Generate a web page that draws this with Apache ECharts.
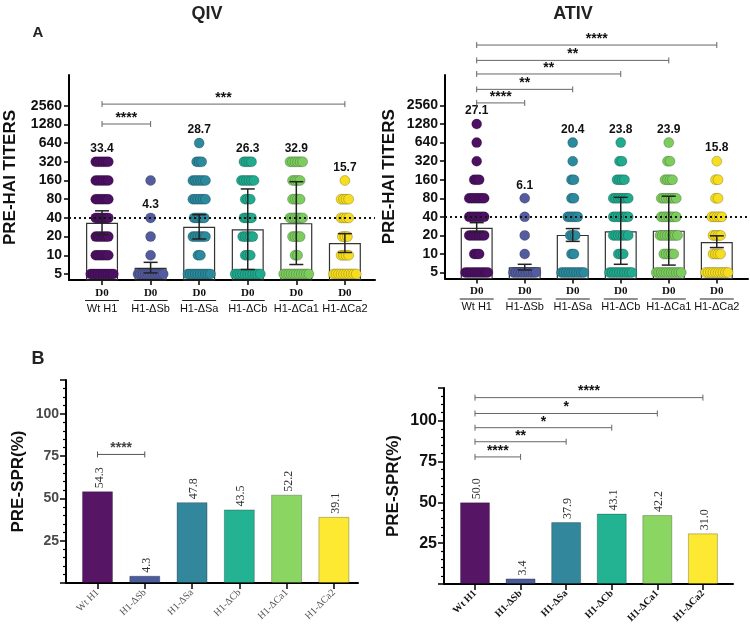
<!DOCTYPE html>
<html>
<head>
<meta charset="utf-8">
<script src="https://cdn.jsdelivr.net/npm/echarts@6/dist/echarts.min.js"></script>
<style>
html, body { margin: 0; padding: 0; background: #fff; }
#main { width: 750px; height: 630px; }
</style>
</head>
<body>
<div id="main"></div>
<script>
// groups and titer levels
var groups = ['Wt H1', 'H1-ΔSb', 'H1-ΔSa', 'H1-ΔCb', 'H1-ΔCa1', 'H1-ΔCa2'];
var titerLevels = [5, 10, 20, 40, 80, 160, 320, 640, 1280];
var titerTicks = [5, 10, 20, 40, 80, 160, 320, 640, 1280, 2560];
var sprTicks = [25, 50, 75, 100];

// QIV, pre-HAI titers
var qivGmt = [33.4, 4.3, 28.7, 26.3, 32.9, 15.7];
var qivBar = [33.4, 6.3, 28.7, 26.3, 32.9, 15.7];
var qivErrLow = [21.5, 5.2, 18.3, 5.9, 7.1, 11.1];
var qivErrHigh = [52, 7.7, 45, 117, 153, 22.3];
var qivLabelLevel = [320, 40, 640, 320, 320, 160];
// dot counts per level 5,10,20,...,1280
var qivDots = [
    [10, 6, 6, 6, 6, 6, 6, 0, 0],
    [11, 1, 1, 1, 0, 1, 0, 0, 0],
    [10, 2, 6, 5, 6, 6, 3, 1, 0],
    [11, 3, 5, 4, 3, 6, 4, 0, 0],
    [11, 2, 4, 6, 4, 4, 6, 0, 0],
    [10, 4, 3, 4, 4, 1, 0, 0, 0]
];
var qivSig = [[0, 1, 1300, '****'], [0, 5, 2720, '***']];

// ATIV, pre-HAI titers
var ativGmt = [27.1, 6.1, 20.4, 23.8, 23.9, 15.8];
var ativBar = [26.6, 6.1, 20.4, 23.3, 23.9, 15.6];
var ativErrLow = [22.8, 5.5, 16.0, 6.8, 6.6, 12.7];
var ativErrHigh = [32.2, 6.8, 25.8, 83, 86.5, 19.7];
var ativLabelLevel = [1280, 80, 640, 640, 640, 320];
var ativDots = [
    [10, 3, 7, 7, 7, 3, 1, 1, 1],
    [10, 1, 1, 1, 1, 0, 0, 0, 0],
    [10, 2, 3, 5, 2, 2, 1, 1, 0],
    [10, 3, 7, 7, 7, 4, 2, 1, 0],
    [11, 5, 8, 7, 7, 4, 2, 1, 0],
    [10, 4, 4, 5, 2, 2, 1, 0, 0]
];
var ativSig = [[0, 1, 2820, '****'], [0, 2, 4680, '**'], [0, 3, 8310, '**'], [0, 4, 13800, '**'], [0, 5, 24500, '****']];

// pre-SPR (%)
var qivSpr = [54.3, 4.3, 47.8, 43.5, 52.2, 39.1];
var ativSpr = [50.0, 3.4, 37.9, 43.1, 42.2, 31.0];
var qivSprSig = [[0, 1, 76, '****']];
var ativSprSig = [[0, 1, 77.8, '****'], [0, 2, 87.1, '**'], [0, 3, 95.7, '*'], [0, 4, 104.4, '*'], [0, 5, 114.1, '****']];

var dotColors = ['#4d1163', '#535c9e', '#2b8a9d', '#20aa8e', '#7ccd5e', '#f6dd20'];
var barColors = ['#561565', '#4c5b9a', '#33879c', '#23b393', '#8bd663', '#fde832'];
var SANS = 'Liberation Sans';
var SERIF = 'Liberation Serif';

var myChart = echarts.init(document.getElementById('main'));

var topXAxis = function (grid, min, max) {
    return {
        gridIndex: grid, type: 'value', min: min, max: max,
        splitLine: {show: false},
        axisLine: {lineStyle: {color: '#000', width: 2}},
        axisTick: {customValues: [0, 1, 2, 3, 4, 5], length: 5, lineStyle: {color: '#000', width: 1.5}},
        axisLabel: {
            customValues: [0, 1, 2, 3, 4, 5],
            margin: 7,
            formatter: function (v) {
                return '{d|D0}\n{l| }\n{n|' + groups[Math.round(v)] + '}';
            },
            rich: {
                d: {fontFamily: SERIF, fontWeight: 'bold', fontSize: 11, lineHeight: 12, color: '#111'},
                l: {width: 34, height: 1.2, lineHeight: 3, backgroundColor: '#222', fontSize: 2},
                n: {fontFamily: SANS, fontSize: 11, lineHeight: 13, color: '#111'}
            }
        }
    };
};

var bottomXAxis = function (grid, min, max, bold) {
    return {
        gridIndex: grid, type: 'value', min: min, max: max,
        splitLine: {show: false},
        axisLine: {lineStyle: {color: '#000', width: 2}},
        axisTick: {customValues: [0, 1, 2, 3, 4, 5], length: 6, lineStyle: {color: '#000', width: 1.5}},
        axisLabel: {
            customValues: [0, 1, 2, 3, 4, 5],
            rotate: 45, margin: 8,
            fontFamily: SERIF, fontSize: 10,
            fontWeight: bold ? 'bold' : 'normal',
            color: bold ? '#111' : '#555',
            formatter: function (v) { return groups[Math.round(v)]; }
        }
    };
};

var topYAxis = function (grid, gap) {
    return {
        gridIndex: grid, type: 'log', logBase: 2, min: 4, max: 8000,
        splitLine: {show: false},
        axisLine: {show: true, onZero: false, lineStyle: {color: '#000', width: 2}},
        axisTick: {show: true, customValues: titerTicks, length: 5, lineStyle: {color: '#000', width: 1.5}},
        axisLabel: {customValues: titerTicks, margin: 7, fontFamily: SANS, fontWeight: 'bold', fontSize: 14, color: '#111',
            formatter: function (v) { return String(v); }},
        name: 'PRE-HAI TITERS', nameLocation: 'middle', nameGap: gap,
        nameTextStyle: {fontFamily: SANS, fontWeight: 'bold', fontSize: 17, color: '#111'}
    };
};

var bottomYAxis = function (grid, gap, labelColor, labelSize) {
    return {
        gridIndex: grid, type: 'value', min: 0, max: 120, interval: 25,
        splitLine: {show: false},
        axisLine: {show: true, onZero: false, lineStyle: {color: '#000', width: 2}},
        axisTick: {show: true, length: 6, lineStyle: {color: '#000', width: 1.5}},
        minorTick: {show: true, splitNumber: 5, length: 3, lineStyle: {color: '#000', width: 1.2}},
        axisLabel: {customValues: sprTicks, margin: 7, fontFamily: SANS, fontWeight: 'bold', fontSize: labelSize, color: labelColor},
        name: 'PRE-SPR(%)', nameLocation: 'middle', nameGap: gap,
        nameTextStyle: {fontFamily: SANS, fontWeight: 'bold', fontSize: 17, color: '#111'}
    };
};

var dotSeries = function (counts, axis, step) {
    var out = [];
    counts.forEach(function (row, g) {
        var data = [];
        row.forEach(function (n, k) {
            for (var i = 0; i < n; i++) {
                data.push([g + (i - (n - 1) / 2) * step, titerLevels[k]]);
            }
        });
        out.push({
            type: 'scatter', xAxisIndex: axis, yAxisIndex: axis, data: data,
            symbolSize: 10, silent: true, z: 3,
            itemStyle: {color: dotColors[g], borderColor: 'rgba(0,0,0,0.35)', borderWidth: 0.6, opacity: 1}
        });
    });
    return out;
};

var gmtBars = function (values, axis) {
    return {
        type: 'bar', xAxisIndex: axis, yAxisIndex: axis, barWidth: 32, clip: true, z: 2, silent: true,
        data: values.map(function (v, i) { return [i, v]; }),
        itemStyle: {color: 'rgba(255,255,255,0)', borderColor: '#333', borderWidth: 1.2},
        markLine: {
            silent: true, symbol: 'none', label: {show: false},
            lineStyle: {type: [2, 3], width: 2, color: '#111'},
            data: [{yAxis: 40}]
        }
    };
};

var errSeries = function (low, high, axis) {
    return {
        type: 'custom', xAxisIndex: axis, yAxisIndex: axis, z: 5, silent: true,
        data: low.map(function (v, i) { return [i, v, high[i]]; }),
        renderItem: function (params, api) {
            var lo = api.coord([api.value(0), api.value(1)]);
            var hi = api.coord([api.value(0), api.value(2)]);
            var w = 7;
            var st = {stroke: '#222', lineWidth: 1.5};
            return {type: 'group', children: [
                {type: 'line', shape: {x1: lo[0], y1: lo[1], x2: hi[0], y2: hi[1]}, style: st},
                {type: 'line', shape: {x1: lo[0] - w, y1: lo[1], x2: lo[0] + w, y2: lo[1]}, style: st},
                {type: 'line', shape: {x1: hi[0] - w, y1: hi[1], x2: hi[0] + w, y2: hi[1]}, style: st}
            ]};
        }
    };
};

var gmtLabels = function (gmt, level, axis) {
    return {
        type: 'custom', xAxisIndex: axis, yAxisIndex: axis, z: 6, silent: true,
        data: level.map(function (v, i) { return [i, v]; }),
        renderItem: function (params, api) {
            var p = api.coord([api.value(0), api.value(1)]);
            return {
                type: 'text', x: p[0], y: p[1] - 13,
                style: {text: gmt[params.dataIndex].toFixed(1), fill: '#111', font: 'bold 12px ' + SANS,
                    textAlign: 'center', textVerticalAlign: 'middle'}
            };
        }
    };
};

var sigSeries = function (sig, axis, lineColor, textColor) {
    return {
        type: 'custom', xAxisIndex: axis, yAxisIndex: axis, z: 6, silent: true, clip: false,
        data: sig.map(function (b) { return [b[0], b[2]]; }),
        renderItem: function (params, api) {
            var b = sig[params.dataIndex];
            var p1 = api.coord([b[0], b[2]]);
            var p2 = api.coord([b[1], b[2]]);
            var st = {stroke: lineColor, lineWidth: 1};
            return {type: 'group', children: [
                {type: 'line', shape: {x1: p1[0], y1: p1[1], x2: p2[0], y2: p2[1]}, style: st},
                {type: 'line', shape: {x1: p1[0], y1: p1[1] - 3, x2: p1[0], y2: p1[1] + 3}, style: st},
                {type: 'line', shape: {x1: p2[0], y1: p2[1] - 3, x2: p2[0], y2: p2[1] + 3}, style: st},
                {type: 'text', x: (p1[0] + p2[0]) / 2, y: p1[1] - 6,
                    style: {text: b[3], fill: textColor, font: 'bold 14px ' + SANS, textAlign: 'center', textVerticalAlign: 'middle'}}
            ]};
        }
    };
};

var sprBars = function (values, axis, width) {
    return {
        type: 'bar', xAxisIndex: axis, yAxisIndex: axis, barWidth: width, silent: true, z: 2,
        data: values.map(function (v, i) {
            return {value: [i, v], itemStyle: {color: barColors[i]}};
        }),
        itemStyle: {borderColor: 'rgba(0,0,0,0.25)', borderWidth: 1}
    };
};

var sprLabels = function (values, axis) {
    return {
        type: 'custom', xAxisIndex: axis, yAxisIndex: axis, z: 6, silent: true,
        data: values.map(function (v, i) { return [i, v]; }),
        renderItem: function (params, api) {
            var p = api.coord([api.value(0), api.value(1)]);
            return {
                type: 'text', x: p[0] + 2, y: p[1] - 3, rotation: Math.PI / 2,
                style: {text: values[params.dataIndex].toFixed(1), fill: '#333', font: '12px ' + SERIF,
                    textAlign: 'left', textVerticalAlign: 'middle'}
            };
        }
    };
};

var series = [gmtBars(qivBar, 0), gmtBars(ativBar, 1)]
    .concat(dotSeries(qivDots, 0, 0.052))
    .concat(dotSeries(ativDots, 1, 0.052))
    .concat([
        errSeries(qivErrLow, qivErrHigh, 0),
        errSeries(ativErrLow, ativErrHigh, 1),
        gmtLabels(qivGmt, qivLabelLevel, 0),
        gmtLabels(ativGmt, ativLabelLevel, 1),
        sigSeries(qivSig, 0, '#666', '#111'),
        sigSeries(ativSig, 1, '#666', '#111'),
        sprBars(qivSpr, 2, 31),
        sprBars(ativSpr, 3, 30),
        sprLabels(qivSpr, 2),
        sprLabels(ativSpr, 3),
        sigSeries(qivSprSig, 2, '#555', '#444'),
        sigSeries(ativSprSig, 3, '#666', '#111')
    ]);

var option = {
    animation: false,
    backgroundColor: '#fff',
    graphic: [
        {type: 'text', x: 207, y: 14, style: {text: 'QIV', font: 'bold 18px ' + SANS, fill: '#222', textAlign: 'center', textVerticalAlign: 'middle'}},
        {type: 'text', x: 573, y: 14, style: {text: 'ATIV', font: 'bold 18px ' + SANS, fill: '#222', textAlign: 'center', textVerticalAlign: 'middle'}},
        {type: 'text', x: 38, y: 33, style: {text: 'A', font: 'bold 15px ' + SANS, fill: '#222', textAlign: 'center', textVerticalAlign: 'middle'}},
        {type: 'text', x: 38, y: 359, style: {text: 'B', font: 'bold 18px ' + SANS, fill: '#222', textAlign: 'center', textVerticalAlign: 'middle'}}
    ],
    grid: [
        {left: 69, top: 75, right: 375, bottom: 350},
        {left: 445, top: 75, right: 2, bottom: 351.5},
        {left: 66, top: 380, right: 392, bottom: 47},
        {left: 444, top: 388, right: 17, bottom: 46}
    ],
    xAxis: [
        topXAxis(0, -0.68, 5.62),
        topXAxis(1, -0.66, 5.65),
        bottomXAxis(2, -0.666, 5.51, false),
        bottomXAxis(3, -0.68, 5.66, true)
    ],
    yAxis: [
        topYAxis(0, 50),
        topYAxis(1, 47),
        bottomYAxis(2, 39, '#4a4a4a', 14),
        bottomYAxis(3, 42, '#111', 16)
    ],
    series: series
};

myChart.setOption(option);
window.addEventListener('resize', function () {
    myChart.resize();
});
</script>
</body>
</html>
